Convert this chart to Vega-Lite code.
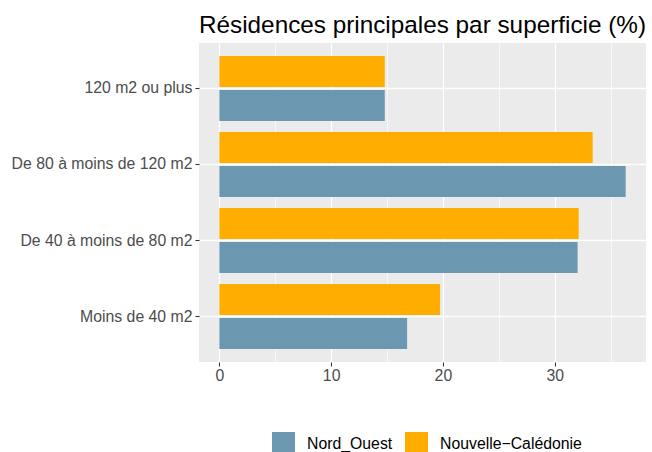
{
  "$schema": "https://vega.github.io/schema/vega-lite/v6.json",
  "width": 447,
  "height": 319,
  "autosize": {"type": "none"},
  "padding": {"left": 199, "top": 43, "right": 6, "bottom": 90},
  "background": "white",
  "title": {
    "text": "Résidences principales par superficie (%)",
    "font": "Liberation Sans",
    "fontSize": 24.3,
    "fontWeight": "normal",
    "color": "black",
    "anchor": "middle",
    "baseline": "alphabetic",
    "offset": 12,
    "dy": 26
  },
  "config": {
    "view": {"fill": "#EBEBEB", "stroke": null},
    "font": "Liberation Sans"
  },
  "data": {
    "values": [
      {"superficie": "120 m2 ou plus", "zone": "Nord_Ouest", "pct": 14.8},
      {"superficie": "120 m2 ou plus", "zone": "Nouvelle-Calédonie", "pct": 14.8},
      {"superficie": "De 80 à moins de 120 m2", "zone": "Nord_Ouest", "pct": 36.35},
      {"superficie": "De 80 à moins de 120 m2", "zone": "Nouvelle-Calédonie", "pct": 33.4},
      {"superficie": "De 40 à moins de 80 m2", "zone": "Nord_Ouest", "pct": 32.05},
      {"superficie": "De 40 à moins de 80 m2", "zone": "Nouvelle-Calédonie", "pct": 32.15},
      {"superficie": "Moins de 40 m2", "zone": "Nord_Ouest", "pct": 16.8},
      {"superficie": "Moins de 40 m2", "zone": "Nouvelle-Calédonie", "pct": 19.75}
    ]
  },
  "mark": {"type": "bar"},
  "encoding": {
    "y": {
      "field": "superficie",
      "type": "nominal",
      "sort": ["120 m2 ou plus", "De 80 à moins de 120 m2", "De 40 à moins de 80 m2", "Moins de 40 m2"],
      "scale": {"paddingInner": 0.145, "paddingOuter": 0.171},
      "axis": {
        "title": null,
        "bandPosition": 0.5,
        "domain": false,
        "grid": true,
        "gridColor": "white",
        "gridWidth": 1.3,
        "ticks": true,
        "tickColor": "#333333",
        "tickSize": 4,
        "tickWidth": 1.1,
        "labelFont": "Liberation Sans",
        "labelFontSize": 15.8,
        "labelColor": "#4D4D4D",
        "labelPadding": 3,
        "labelLimit": 300
      }
    },
    "yOffset": {
      "field": "zone",
      "type": "nominal",
      "sort": ["Nouvelle-Calédonie", "Nord_Ouest"],
      "scale": {"paddingInner": 0.09}
    },
    "x": {
      "field": "pct",
      "type": "quantitative",
      "scale": {"domain": [-1.82, 38.17], "nice": false, "zero": false},
      "axis": {
        "title": null,
        "values": [0, 5, 10, 15, 20, 25, 30, 35],
        "labelExpr": "datum.value % 10 === 0 ? datum.label : ''",
        "domain": false,
        "grid": true,
        "gridColor": "white",
        "gridWidth": {"condition": {"test": "datum.value % 10 === 0", "value": 1.3}, "value": 0.65},
        "ticks": true,
        "tickColor": "#333333",
        "tickSize": 4,
        "tickWidth": 1.1,
        "tickOpacity": {"condition": {"test": "datum.value % 10 === 0", "value": 1}, "value": 0},
        "labelFont": "Liberation Sans",
        "labelFontSize": 15.8,
        "labelColor": "#4D4D4D",
        "labelPadding": 2,
        "labelFlush": false
      }
    },
    "color": {
      "field": "zone",
      "type": "nominal",
      "scale": {"domain": ["Nord_Ouest", "Nouvelle-Calédonie"], "range": ["#6C97B0", "#FFAE00"]},
      "legend": {
        "title": null,
        "orient": "none",
        "direction": "horizontal",
        "legendX": 73,
        "legendY": 389,
        "symbolType": "square",
        "symbolSize": 529,
        "symbolStrokeWidth": 0,
        "symbolOpacity": 1,
        "labelFont": "Liberation Sans",
        "labelFontSize": 15.8,
        "labelColor": "black",
        "labelOffset": 12,
        "columnPadding": 12,
        "padding": 0,
        "labelExpr": "replace(datum.label, '-', '−')"
      }
    }
  }
}
